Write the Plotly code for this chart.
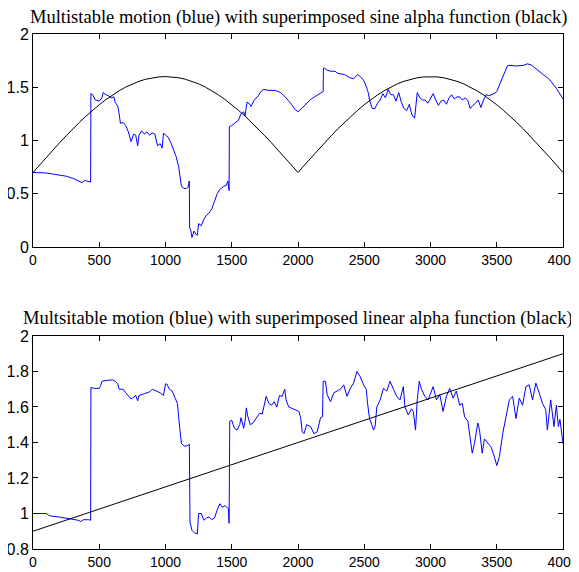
import plotly.graph_objects as go

# ---------------- data ----------------
top_x = [0, 100, 150, 200, 250, 300, 350, 370, 390, 410, 430, 435,
         437, 450, 470, 500, 520, 530, 550, 570, 590, 610, 620, 640, 650, 660, 680, 700, 720, 740,
         760, 775, 790, 800, 820, 840, 860, 880, 900, 920, 940, 960, 975, 985, 1000, 1020, 1040,
         1060, 1080, 1100, 1110, 1120, 1140, 1160, 1170, 1180,
         1182, 1190, 1200, 1215, 1230, 1240, 1250, 1270, 1290, 1310, 1330, 1350, 1370, 1390,
         1410, 1440, 1460, 1470, 1480,
         1482, 1500, 1520, 1550, 1570, 1590, 1600, 1615, 1630, 1645, 1670, 1700, 1720, 1740,
         1780, 1830, 1870, 1910, 1950, 1980, 2000, 2050, 2100, 2150, 2190,
         2192, 2200, 2220, 2250, 2280, 2300, 2350, 2390, 2420, 2450, 2480, 2500, 2520, 2530,
         2540, 2560, 2580, 2600, 2620, 2640, 2660, 2680, 2700, 2720, 2740, 2760, 2780, 2800,
         2820, 2840, 2860, 2880, 2900, 2920, 2940, 2960, 2980, 3000, 3020, 3040, 3060, 3080,
         3100, 3120, 3140, 3160, 3180, 3200, 3220, 3240, 3260, 3280, 3300, 3320, 3340, 3360,
         3380, 3400, 3420, 3440, 3460, 3480, 3500, 3520, 3540, 3560, 3580, 3600, 3650, 3700,
         3730, 3760, 3800, 3850, 3900, 3950, 4000]
top_y = [0.70, 0.695, 0.685, 0.675, 0.665, 0.645, 0.62, 0.605, 0.625, 0.62, 0.615, 0.61,
         1.44, 1.43, 1.38, 1.37, 1.40, 1.45, 1.43, 1.42, 1.40, 1.41, 1.36, 1.32, 1.25, 1.16, 1.17, 1.14, 1.08, 0.99,
         1.06, 1.05, 0.95, 1.05, 1.09, 1.06, 1.08, 1.05, 1.07, 1.06, 0.95, 0.97, 0.93, 1.07, 1.05, 1.03, 0.98,
         0.92, 0.85, 0.75, 0.65, 0.57, 0.55, 0.55, 0.56, 0.62,
         0.18, 0.16, 0.09, 0.15, 0.12, 0.11, 0.22, 0.20, 0.26, 0.30, 0.32, 0.36, 0.43, 0.50,
         0.54, 0.57, 0.58, 0.62, 0.53,
         1.13, 1.14, 1.16, 1.19, 1.25, 1.27, 1.23, 1.36, 1.35, 1.32, 1.38, 1.42, 1.46, 1.48,
         1.47, 1.47, 1.45, 1.40, 1.34, 1.29, 1.27, 1.33, 1.39, 1.43, 1.46,
         1.68, 1.68, 1.66, 1.65, 1.65, 1.63, 1.62, 1.59, 1.58, 1.62, 1.59, 1.555, 1.49, 1.45,
         1.38, 1.30, 1.30, 1.35, 1.38, 1.44, 1.40, 1.48, 1.43, 1.43, 1.37, 1.45, 1.36, 1.30,
         1.28, 1.34, 1.24, 1.21, 1.45, 1.40, 1.38, 1.38, 1.35, 1.40, 1.44, 1.38, 1.33, 1.37,
         1.38, 1.34, 1.40, 1.43, 1.39, 1.41, 1.41, 1.38, 1.40, 1.38, 1.30, 1.33, 1.35, 1.38,
         1.31, 1.38, 1.43, 1.42, 1.43, 1.44, 1.46, 1.52, 1.59, 1.65, 1.70, 1.705, 1.70, 1.705,
         1.72, 1.71, 1.67, 1.62, 1.57, 1.49, 1.39]

top_alpha_x = list(range(0, 4001, 50))
top_alpha_y = [0.700, 0.771, 0.841, 0.910, 0.978, 1.044, 1.109, 1.170, 1.229, 1.284,
               1.336, 1.384, 1.428, 1.467, 1.502, 1.532, 1.556, 1.575, 1.589, 1.597,
               1.600,
               1.597, 1.589, 1.575, 1.556, 1.532, 1.502, 1.467, 1.428, 1.384, 1.336,
               1.284, 1.229, 1.170, 1.109, 1.044, 0.978, 0.910, 0.841, 0.771,
               0.700,
               0.771, 0.841, 0.910, 0.978, 1.044, 1.109, 1.170, 1.229, 1.284,
               1.336, 1.384, 1.428, 1.467, 1.502, 1.532, 1.556, 1.575, 1.589, 1.597,
               1.600,
               1.597, 1.589, 1.575, 1.556, 1.532, 1.502, 1.467, 1.428, 1.384, 1.336,
               1.284, 1.229, 1.170, 1.109, 1.044, 0.978, 0.910, 0.841, 0.771,
               0.700]

bot_x = [0, 100, 120, 140, 200, 250, 300, 340, 360, 380, 420, 435,
         437, 460, 490, 500, 510, 520, 560, 600, 620, 640, 650, 680, 700, 720, 740, 760, 775,
         790, 800, 840, 880, 900, 930, 960, 985, 990, 1000, 1010, 1030, 1050, 1070, 1090, 1100,
         1110, 1120, 1140, 1160, 1180,
         1185, 1200, 1220, 1240, 1250, 1270, 1290, 1310, 1330, 1350, 1370, 1390, 1410, 1430,
         1450, 1470, 1475, 1480,
         1485, 1500, 1520, 1540, 1560, 1570, 1590, 1600, 1610, 1620, 1640, 1660, 1680, 1700,
         1710, 1730, 1750, 1760, 1780, 1800, 1820, 1840, 1860, 1880, 1900, 1910, 1930, 1960,
         1990, 2007, 2020, 2032, 2045, 2065, 2095, 2120, 2145, 2170, 2185,
         2190, 2207, 2220, 2245, 2270, 2295, 2320, 2345, 2370, 2395, 2420, 2445, 2470, 2495,
         2515, 2525, 2540, 2557, 2570, 2582, 2595, 2620, 2645, 2670, 2695, 2720, 2745, 2770,
         2795, 2807, 2832, 2857, 2870, 2887, 2900, 2915, 2932, 2957, 2982, 3020, 3045, 3070,
         3095, 3120, 3145, 3170, 3195, 3220, 3240, 3257, 3282, 3300, 3315, 3332, 3357, 3370,
         3390, 3407, 3432, 3457, 3482, 3500, 3520, 3545, 3570, 3595, 3620, 3645, 3670, 3695,
         3720, 3745, 3770, 3795, 3820, 3845, 3870, 3882, 3907, 3932, 3950, 3965, 3977, 4000]
bot_y = [1.00, 1.00, 0.99, 0.985, 0.98, 0.975, 0.97, 0.962, 0.955, 0.965, 0.965, 0.962,
         1.71, 1.705, 1.705, 1.705, 1.72, 1.745, 1.75, 1.753, 1.745, 1.73, 1.70, 1.70, 1.68, 1.665, 1.645, 1.655, 1.665,
         1.635, 1.665, 1.675, 1.685, 1.70, 1.69, 1.68, 1.665, 1.70, 1.73, 1.73, 1.70, 1.69, 1.65, 1.62, 1.535,
         1.47, 1.395, 1.38, 1.38, 1.39,
         0.95, 0.905, 0.89, 0.885, 1.00, 1.00, 0.962, 0.975, 0.98, 0.965, 0.975, 1.02, 1.055, 1.035,
         1.045, 1.03, 1.03, 0.945,
         1.52, 1.525, 1.48, 1.47, 1.50, 1.54, 1.48, 1.52, 1.595, 1.55, 1.50, 1.51, 1.53, 1.55,
         1.565, 1.56, 1.62, 1.66, 1.62, 1.61, 1.63, 1.60, 1.665, 1.66, 1.70, 1.64, 1.60, 1.59,
         1.58, 1.575, 1.54, 1.46, 1.45, 1.50, 1.49, 1.45, 1.46, 1.54, 1.545,
         1.745, 1.745, 1.67, 1.63, 1.68, 1.69, 1.70, 1.725, 1.66, 1.705, 1.735, 1.80, 1.77, 1.725,
         1.70, 1.62, 1.535, 1.50, 1.47, 1.49, 1.60, 1.64, 1.705, 1.69, 1.745, 1.70, 1.66, 1.64,
         1.715, 1.60, 1.555, 1.59, 1.575, 1.47, 1.64, 1.745, 1.70, 1.66, 1.64, 1.715, 1.64, 1.67,
         1.575, 1.66, 1.705, 1.65, 1.69, 1.61, 1.62, 1.545, 1.52, 1.42, 1.34, 1.395, 1.51, 1.47,
         1.34, 1.42, 1.395, 1.375, 1.32, 1.27, 1.32, 1.45, 1.545, 1.64, 1.66, 1.535, 1.65, 1.61,
         1.715, 1.725, 1.64, 1.735, 1.68, 1.62, 1.585, 1.47, 1.64, 1.49, 1.61, 1.49, 1.53, 1.395]

bot_alpha_x = [0, 4000]
bot_alpha_y = [0.9, 1.9]

top_title = "Multistable motion (blue) with superimposed sine alpha function (black)"
bot_title = "Multsitable motion (blue) with superimposed linear alpha function (black)"

x_ticks = [0, 500, 1000, 1500, 2000, 2500, 3000, 3500, 4000]
top_y_ticks = [0, 0.5, 1, 1.5, 2]
bot_y_ticks = [0.8, 1, 1.2, 1.4, 1.6, 1.8, 2]

# ---------------- figure ----------------
fig = go.Figure()
blue = dict(color="#0000ff", width=1)
black = dict(color="#000000", width=1)

fig.add_trace(go.Scatter(x=top_x, y=top_y, mode="lines", line=blue, xaxis="x", yaxis="y"))
fig.add_trace(go.Scatter(x=top_alpha_x, y=top_alpha_y, mode="lines", line=black, xaxis="x", yaxis="y"))
fig.add_trace(go.Scatter(x=bot_x, y=bot_y, mode="lines", line=blue, xaxis="x2", yaxis="y2"))
fig.add_trace(go.Scatter(x=bot_alpha_x, y=bot_alpha_y, mode="lines", line=black, xaxis="x2", yaxis="y2"))

sans = "Liberation Sans, Arial, sans-serif"
axis_common = dict(showgrid=False, zeroline=False, showline=True, linecolor="black", linewidth=1,
                   mirror="allticks", ticks="inside", ticklen=5, tickcolor="black", automargin=False)
yfont = dict(family=sans, size=16, color="black")
xfont = dict(family=sans, size=14, color="black")

# page body adds an 8px offset: figure is sized/margined to compensate
fig.update_layout(
    width=571, height=564,
    margin=dict(l=25, r=16, t=26, b=23),
    paper_bgcolor="white", plot_bgcolor="white",
    showlegend=False,
    xaxis=dict(axis_common, domain=[0, 1], range=[0, 4000], tickvals=x_ticks, anchor="y",
               ticklabeloverflow="allow", tickfont=xfont),
    yaxis=dict(axis_common, domain=[0.5864, 1], range=[0, 2], tickvals=top_y_ticks,
               ticktext=[f"{v:g}" for v in top_y_ticks], anchor="x", tickfont=yfont),
    xaxis2=dict(axis_common, domain=[0, 1], range=[0, 4000], tickvals=x_ticks, anchor="y2",
                ticklabeloverflow="allow", tickfont=xfont),
    yaxis2=dict(axis_common, domain=[0, 0.4136], range=[0.8, 2], tickvals=bot_y_ticks,
                ticktext=[f"{v:g}" for v in bot_y_ticks], anchor="x2", tickfont=yfont),
    annotations=[
        dict(text=top_title, xref="paper", yref="paper", x=0.5, y=1, yshift=17,
             xanchor="center", yanchor="middle", showarrow=False,
             font=dict(family="Liberation Serif, Times New Roman, serif", size=18.5, color="black")),
        dict(text=bot_title, xref="paper", yref="paper", x=0.5, y=0.4136, yshift=17,
             xanchor="center", yanchor="middle", showarrow=False,
             font=dict(family="Liberation Serif, Times New Roman, serif", size=18.5, color="black")),
    ],
)

fig.write_html("out.html")
